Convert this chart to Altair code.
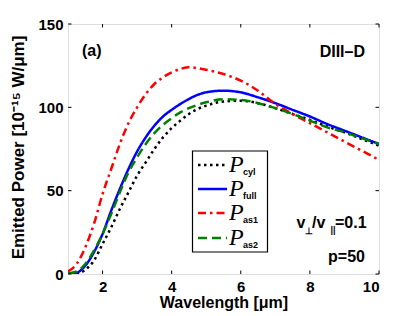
import altair as alt
import pandas as pd

# ---- data ----
wavelength = [1.0, 1.25, 1.5, 1.75, 2.0, 2.25, 2.5, 2.75, 3.0, 3.25, 3.5, 3.75, 4.0, 4.25,
              4.5, 4.75, 5.0, 5.5, 6.0, 6.5, 7.0, 7.5, 8.0, 8.5, 9.0, 9.5, 10.0]
p_cyl = [None, 0, 2.5, 8, 18, 28, 39, 49, 59, 67, 75, 82, 87.5, 92, 96, 99, 101, 103.5,
         104, 102.5, 99.5, 96, 92.5, 88.5, 85, 81, 77]
p_full = [0.3, 0.8, 5, 13, 24, 38, 51, 63, 73.5, 82, 89, 94.5, 98.5, 102, 105, 107.5, 109,
          110, 109, 106, 102.5, 98.5, 94.5, 90, 86, 82, 78]
p_as1 = [1.5, 6, 16, 30, 48, 63, 78, 90.5, 100, 108, 114, 118, 121, 123, 124, 123.5, 122.5,
         120, 116, 110, 102, 96, 90.5, 85, 79.5, 74, 68.5]
p_as2 = [0.3, 1.5, 6, 14, 24, 36, 49, 61, 70, 78, 84.5, 89.5, 93.5, 97, 99.5, 101.5, 103,
         104.8, 104.5, 102.5, 99.5, 96, 92, 88, 85, 81.5, 78]

series_names = ["cyl", "full", "as1", "as2"]
series_values = [p_cyl, p_full, p_as1, p_as2]
x_ticks = [2, 4, 6, 8, 10]
y_ticks = [0, 50, 100, 150]

# styles
colors = {"cyl": "#000000", "full": "#0000ff", "as1": "#ff0000", "as2": "#008000"}
dashes = {"cyl": [2.5, 3.5], "full": [1, 0], "as1": [8, 4, 2.5, 4], "as2": [9, 5]}

W, H = 311, 250
FONT = "Liberation Sans"

xs = alt.Scale(domain=[1, 10], nice=False, zero=False)
ys = alt.Scale(domain=[0, 150], nice=False)

layers = []
for name, vals in zip(series_names, series_values):
    df = pd.DataFrame({"x": wavelength, "y": vals})
    layers.append(
        alt.Chart(df).mark_line(strokeWidth=2.5, clip=True, interpolate="monotone",
                                strokeDash=dashes[name], color=colors[name]).encode(
            x=alt.X("x:Q", scale=xs,
                    axis=alt.Axis(values=x_ticks, title="Wavelength [μm]", grid=False,
                                  domain=False, ticks=False, labelPadding=5,
                                  labelFont=FONT, labelFontSize=15, labelFontWeight="bold",
                                  labelColor="black", titleFont=FONT, titleFontSize=16,
                                  titleFontWeight="bold", titleColor="black",
                                  titleBaseline="alphabetic", titleY=33, titleX=W / 2)),
            y=alt.Y("y:Q", scale=ys,
                    axis=alt.Axis(values=y_ticks, title="Emitted Power  [10⁻¹⁵ W/μm]",
                                  grid=False, domain=False, ticks=False, labelPadding=5,
                                  labelFont=FONT, labelFontSize=15, labelFontWeight="bold",
                                  labelColor="black", titleFont=FONT, titleFontSize=17,
                                  titleFontWeight="bold", titleColor="black",
                                  titleAngle=-90, titleBaseline="alphabetic",
                                  titleX=-45, titleY=H / 2 - 2, titleAlign="center")),
        )
    )

# inward tick marks on all four sides
xt = pd.DataFrame({"t": x_ticks})
yt = pd.DataFrame({"t": y_ticks})
tick_len = 3.5
layers += [
    alt.Chart(xt).mark_rule(color="black", strokeWidth=1).encode(
        x=alt.X("t:Q", scale=xs), y=alt.value(H), y2=alt.value(H - tick_len)),
    alt.Chart(xt).mark_rule(color="black", strokeWidth=1).encode(
        x=alt.X("t:Q", scale=xs), y=alt.value(0), y2=alt.value(tick_len)),
    alt.Chart(yt).mark_rule(color="black", strokeWidth=1).encode(
        y=alt.Y("t:Q", scale=ys), x=alt.value(0), x2=alt.value(tick_len)),
    alt.Chart(yt).mark_rule(color="black", strokeWidth=1).encode(
        y=alt.Y("t:Q", scale=ys), x=alt.value(W), x2=alt.value(W - tick_len)),
]

# annotations
def txt(s, x, y, size=16, align="left", weight="bold", font=FONT, style="normal"):
    return alt.Chart(pd.DataFrame({"s": [s]})).mark_text(
        align=align, baseline="alphabetic", fontSize=size, fontWeight=weight,
        font=font, fontStyle=style, color="black").encode(
        text="s:N", x=alt.value(x), y=alt.value(y))

layers += [
    txt("(a)", 14, 32),
    txt("DIII–D", 297, 33, align="right"),
    txt("v", 228.5, 204),
    txt("⊥", 237, 210, size=9),
    txt("/v", 244, 204),
    txt("||", 262.5, 209, size=9),
    txt("=0.1", 267, 204),
    txt("p=50", 297, 238, align="right"),
]

# legend box
lx0, lx1, ly0, ly1 = 124.5, 199.5, 127, 228
layers.append(
    alt.Chart(pd.DataFrame({"a": [0]})).mark_rect(
        fill="white", stroke="black", strokeWidth=1.2).encode(
        x=alt.value(lx0), x2=alt.value(lx1), y=alt.value(ly0), y2=alt.value(ly1)))
row_y = [141, 165, 189, 214]
for name, ry in zip(series_names, row_y):
    layers.append(
        alt.Chart(pd.DataFrame({"a": [0]})).mark_rule(
            color=colors[name], strokeWidth=2.5, strokeDash=dashes[name]).encode(
            x=alt.value(130), x2=alt.value(159), y=alt.value(ry), y2=alt.value(ry)))
    layers.append(txt("P", 161, ry + 7, size=24, weight="normal",
                      font="Liberation Serif", style="italic"))
    layers.append(txt(name, 175, ry + 10, size=9))

chart = alt.layer(*layers).properties(
    width=W, height=H,
    autosize=alt.AutoSizeParams(type="none"),
    padding={"left": 60, "top": 16, "right": 32, "bottom": 42},
).configure_view(stroke="black", strokeWidth=1.5).configure(background="white")

chart.save("out.html", embed_options={"renderer": "svg", "actions": False})
